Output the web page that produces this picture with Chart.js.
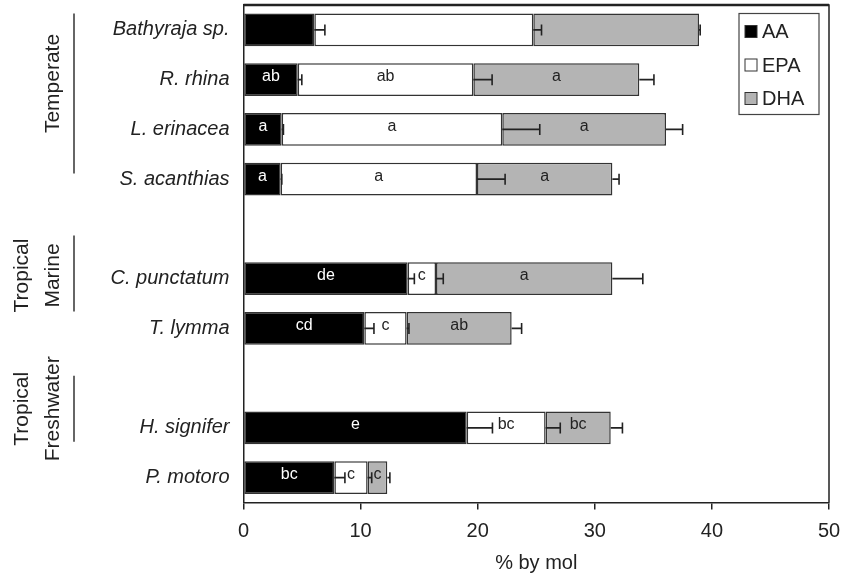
<!DOCTYPE html>
<html>
<head>
<meta charset="utf-8">
<script src="https://cdn.jsdelivr.net/npm/chart.js@4.4.1/dist/chart.umd.min.js"></script>
<style>
  html, body { margin: 0; padding: 0; background: #fff; }
  #wrap { width: 845px; height: 581px; }
</style>
</head>
<body>
<div id="wrap"><canvas id="myChart" width="845" height="581"></canvas></div>
<script>
// especies (linhas vazias = espaco entre grupos)
const species = ['Bathyraja sp.', 'R. rhina', 'L. erinacea', 'S. acanthias', '', 'C. punctatum', 'T. lymma', '', 'H. signifer', 'P. motoro'];

// % by mol de cada acido graxo
const aa  = [6.05, 4.63, 3.26, 3.17, null, 14.02, 10.32, null, 19.06, 7.76];
const epa = [18.7, 15.0, 18.84, 16.77, null, 2.42, 3.61, null, 6.74, 2.84];
const dha = [14.15, 14.17, 13.98, 11.56, null, 15.06, 8.97, null, 5.56, 1.68];

// barras de erro
const aaErr  = [0.9, 0.35, 0.15, 0.1, null, 0.57, 0.82, null, 2.2, 0.9];
const epaErr = [0.7, 1.6, 3.2, 2.4, null, 0.62, 0.2, null, 1.25, 0.35];
const dhaErr = [0.1, 1.25, 1.42, 0.57, null, 2.6, 0.85, null, 1.0, 0.22];

// letras de significancia
const aaSig  = ['', 'ab', 'a', 'a', '', 'de', 'cd', '', 'e', 'bc'];
const epaSig = ['', 'ab', 'a', 'a', '', 'c', 'c', '', 'bc', 'c'];
const dhaSig = ['', 'a', 'a', 'a', '', 'a', 'ab', '', 'bc', 'c'];

// grupos: primeira e ultima linha
const groups = [
    { lines: ['Temperate'], first: 0, last: 3 },
    { lines: ['Tropical', 'Marine'], first: 5, last: 6 },
    { lines: ['Tropical', 'Freshwater'], first: 8, last: 9 }
];

const xTicks = [0, 10, 20, 30, 40, 50];

const FONT = "'Liberation Sans', Arial, sans-serif";
const INK = '#222';

// ajustes de desenho dos grupos (deslocamento do centro e meia altura da linha)
const groupLayout = [
    { dy: -11, half: 80, textDy: -10 },
    { dy: -30, half: 38, textDy: 2 },
    { dy: -44, half: 33, textDy: 0 }
];

const extras = {
    id: 'extras',
    afterDatasetsDraw(chart) {
        const ctx = chart.ctx;
        const xs = chart.scales.x;
        const errs = [aaErr, epaErr, dhaErr];
        const sigs = [aaSig, epaSig, dhaSig];

        ctx.save();
        // barras de erro
        ctx.strokeStyle = INK;
        ctx.lineWidth = 1.6;
        for (let d = 0; d < 3; d++) {
            let meta = chart.getDatasetMeta(d);
            meta.data.forEach((el, j) => {
                if (errs[d][j] == null) return;
                let end = xs.getValueForPixel(el.x);
                let xe = xs.getPixelForValue(end + errs[d][j]);
                ctx.beginPath();
                ctx.moveTo(el.x, el.y);
                ctx.lineTo(xe, el.y);
                ctx.moveTo(xe, el.y - 5.5);
                ctx.lineTo(xe, el.y + 5.5);
                ctx.stroke();
            });
        }

        // letras
        ctx.font = '16px ' + FONT;
        ctx.textAlign = 'center';
        ctx.textBaseline = 'middle';
        for (let d = 0; d < 3; d++) {
            let meta = chart.getDatasetMeta(d);
            ctx.fillStyle = d == 0 ? '#fff' : INK;
            meta.data.forEach((el, j) => {
                if (!sigs[d][j]) return;
                ctx.fillText(sigs[d][j], (el.x + el.base) / 2, el.y - 3);
            });
        }
        ctx.restore();
    },
    afterDraw(chart) {
        const ctx = chart.ctx;
        const a = chart.chartArea;
        const ys = chart.scales.y;

        ctx.save();
        // moldura
        ctx.strokeStyle = INK;
        ctx.lineWidth = 1.5;
        ctx.beginPath();
        ctx.moveTo(a.left, a.top);
        ctx.lineTo(a.right, a.top);
        ctx.lineTo(a.right, a.bottom);
        ctx.stroke();
        ctx.lineWidth = 2.5;
        ctx.beginPath();
        ctx.moveTo(a.left, a.top);
        ctx.lineTo(a.right, a.top);
        ctx.stroke();

        // legenda
        let bx = a.right - 90, by = a.top + 8.5, bw = 80, bh = 101;
        ctx.fillStyle = '#fff';
        ctx.fillRect(bx, by, bw, bh);
        ctx.lineWidth = 1.2;
        ctx.strokeStyle = '#444';
        ctx.strokeRect(bx, by, bw, bh);
        ctx.font = '20px ' + FONT;
        ctx.textAlign = 'left';
        ctx.textBaseline = 'middle';
        chart.data.datasets.forEach((ds, i) => {
            let cy = by + 18 + i * 33.5;
            ctx.fillStyle = ds.backgroundColor;
            ctx.fillRect(bx + 6, cy - 6, 12, 12);
            ctx.strokeStyle = '#333';
            ctx.lineWidth = 1;
            ctx.strokeRect(bx + 6, cy - 6, 12, 12);
            ctx.fillStyle = INK;
            ctx.fillText(ds.label, bx + 23, cy + 1);
        });

        // grupos
        ctx.font = '21px ' + FONT;
        ctx.textAlign = 'center';
        groups.forEach((g, i) => {
            let lay = groupLayout[i];
            let cy = (ys.getPixelForValue(g.first) + ys.getPixelForValue(g.last)) / 2 + lay.dy;
            ctx.strokeStyle = '#333';
            ctx.lineWidth = 1.5;
            ctx.beginPath();
            ctx.moveTo(74, cy - lay.half);
            ctx.lineTo(74, cy + lay.half);
            ctx.stroke();

            let n = g.lines.length;
            g.lines.forEach((t, k) => {
                let tx = 53 - (n - 1 - k) * 31;
                ctx.save();
                ctx.translate(tx, cy + lay.textDy);
                ctx.rotate(-Math.PI / 2);
                ctx.fillStyle = INK;
                ctx.fillText(t, 0, 0);
                ctx.restore();
            });
        });
        ctx.restore();
    }
};

function montarGrafico() {
    var ctx = document.getElementById('myChart').getContext('2d');
    new Chart(ctx, {
        type: 'bar',
        data: {
            labels: species,
            datasets: [{
                label: 'AA',
                data: aa,
                backgroundColor: '#000000'
            }, {
                label: 'EPA',
                data: epa,
                backgroundColor: '#ffffff'
            }, {
                label: 'DHA',
                data: dha,
                backgroundColor: '#b4b4b4'
            }]
        },
        options: {
            indexAxis: 'y',
            responsive: false,
            animation: false,
            datasets: {
                bar: {
                    borderColor: '#333',
                    borderWidth: 1.5,
                    borderSkipped: false,
                    barPercentage: 0.66,
                    categoryPercentage: 1
                }
            },
            layout: { padding: { top: 5, right: 16, left: 0, bottom: 0 } },
            plugins: {
                legend: { display: false },
                tooltip: { enabled: false }
            },
            scales: {
                x: {
                    stacked: true,
                    min: 0,
                    max: 50,
                    afterBuildTicks: s => { s.ticks = xTicks.map(v => ({ value: v })); },
                    afterFit: s => { s.height = 78.5; s.paddingLeft = 0; s.paddingRight = 0; },
                    grid: { drawOnChartArea: false, tickLength: 7, color: INK, lineWidth: 1.5 },
                    border: { color: INK, width: 1.5 },
                    ticks: { color: INK, font: { family: FONT, size: 20 }, padding: 10, maxRotation: 0 },
                    title: {
                        display: true,
                        text: '% by mol',
                        color: INK,
                        font: { family: FONT, size: 20 },
                        padding: { top: 0, bottom: 6 }
                    }
                },
                y: {
                    stacked: true,
                    afterFit: s => { s.width = 243.5; s.paddingTop = 0; s.paddingBottom = 0; },
                    grid: { display: false, drawTicks: false },
                    border: { color: INK, width: 1.5 },
                    ticks: { color: INK, font: { family: FONT, size: 20, style: 'italic' }, padding: 14, autoSkip: false }
                }
            }
        },
        plugins: [extras]
    });
}

montarGrafico();
</script>
</body>
</html>
